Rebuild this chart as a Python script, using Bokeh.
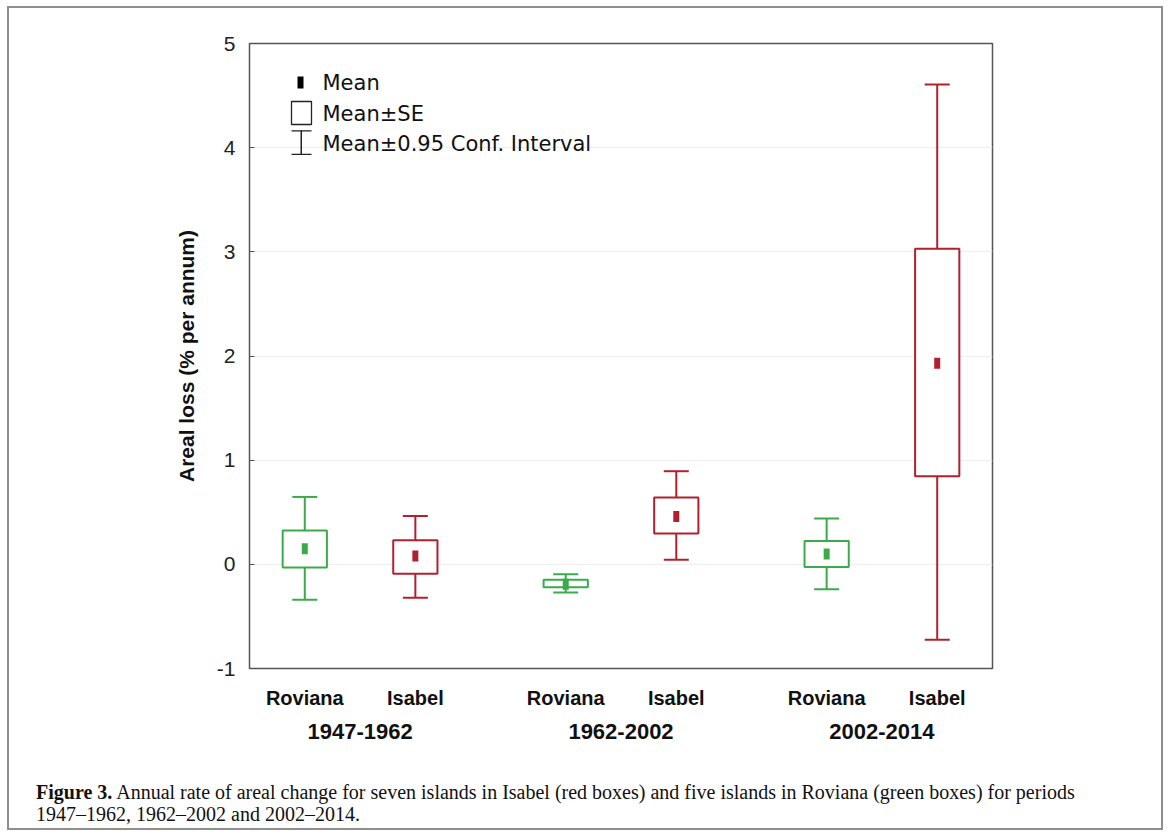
from bokeh.plotting import figure
from bokeh.models import (ColumnDataSource, FactorRange, Range1d, SingleIntervalTicker,
                          BoxAnnotation, Label, Div)
from bokeh.layouts import column
from bokeh.embed import file_html
from bokeh.resources import INLINE

# ---------------- data ----------------
periods = ["1947-1962", "1962-2002", "2002-2014"]
regions = ["Roviana", "Isabel"]
mean = [0.15, 0.08, -0.19, 0.46, 0.10, 1.93]
se_low = [-0.03, -0.09, -0.22, 0.295, -0.026, 0.846]
se_high = [0.325, 0.231, -0.147, 0.641, 0.224, 3.029]
ci_low = [-0.34, -0.32, -0.27, 0.045, -0.24, -0.724]
ci_high = [0.647, 0.465, -0.096, 0.894, 0.439, 4.606]
y_tick_labels = {-1: "-1", 0: "0", 1: "1", 2: "2", 3: "3", 4: "4", 5: "5"}
region_colors = {"Roviana": "#3aaa4b", "Isabel": "#b2202f"}

factors = [(p_, r) for p_ in periods for r in regions]
colors = [region_colors[r] for _, r in factors]

src = ColumnDataSource(dict(x=factors, mean=mean, se_low=se_low, se_high=se_high,
                            ci_low=ci_low, ci_high=ci_high, color=colors))

FONT = "Liberation Sans"

p = figure(width=1152, height=762, output_backend="svg", toolbar_location=None,
           x_range=FactorRange(*factors, group_padding=0.36, range_padding=0),
           y_range=Range1d(-1, 5),
           min_border_left=240, min_border_right=169, min_border_top=35, min_border_bottom=102)

p.outline_line_color = "#555555"
p.outline_line_width = 1.5
p.xgrid.grid_line_color = None
p.ygrid.grid_line_color = "#eeeeee"
p.ygrid.ticker = SingleIntervalTicker(interval=1)

# y axis
ya = p.yaxis[0]
ya.ticker = SingleIntervalTicker(interval=1)
ya.major_label_overrides = y_tick_labels
ya.minor_tick_line_color = None
ya.major_tick_in = 5
ya.major_tick_out = 0
ya.axis_line_color = "#555555"
ya.major_tick_line_color = "#555555"
ya.major_label_text_font = FONT
ya.major_label_text_font_size = "21px"
ya.major_label_text_color = "#222222"
ya.major_label_standoff = 10
ya.axis_label = "Areal loss (% per annum)"
ya.axis_label_text_font = FONT
ya.axis_label_text_font_style = "bold"
ya.axis_label_text_font_size = "21px"
ya.axis_label_text_color = "#111111"
ya.axis_label_standoff = 16

# x axis
xa = p.xaxis[0]
xa.major_tick_line_color = None
xa.axis_line_color = "#555555"
xa.separator_line_color = None
xa.major_label_text_font = FONT
xa.major_label_text_font_style = "bold"
xa.major_label_text_font_size = "20px"
xa.major_label_text_color = "#111111"
xa.group_text_font = FONT
xa.group_text_font_style = "bold"
xa.group_text_font_size = "22px"
xa.group_text_color = "#111111"
xa.major_label_standoff = 12

# whiskers
p.segment(x0="x", y0="se_high", x1="x", y1="ci_high", source=src, line_color="color", line_width=2)
p.segment(x0="x", y0="se_low", x1="x", y1="ci_low", source=src, line_color="color", line_width=2)
p.scatter(x="x", y="ci_high", source=src, marker="dash", size=25, line_color="color", line_width=2)
p.scatter(x="x", y="ci_low", source=src, marker="dash", size=25, line_color="color", line_width=2)
# boxes
p.vbar(x="x", width=0.4, top="se_high", bottom="se_low", source=src,
       fill_color="white", line_color="color", line_width=2)
# means
p.rect(x="x", y="mean", width=6, height=11, width_units="screen", height_units="screen",
       source=src, fill_color="color", line_color=None)

# legend (drawn manually, screen units relative to the plot frame)
LF = "DejaVu Sans"
p.add_layout(BoxAnnotation(left=48, right=54, bottom=580, top=592, left_units="screen",
                           right_units="screen", bottom_units="screen", top_units="screen",
                           fill_color="black", fill_alpha=1, line_color=None))
p.add_layout(BoxAnnotation(left=42, right=62, bottom=544, top=567, left_units="screen",
                           right_units="screen", bottom_units="screen", top_units="screen",
                           fill_color=None, fill_alpha=0, line_color="#222222", line_width=1.3, line_alpha=1))
for (l, r, b, t) in [(51, 52.5, 514, 538), (42, 62, 537, 538.3), (42, 62, 513.5, 514.8)]:
    p.add_layout(BoxAnnotation(left=l, right=r, bottom=b, top=t, left_units="screen",
                               right_units="screen", bottom_units="screen", top_units="screen",
                               fill_color="#222222", fill_alpha=1, line_color=None))
for txt, yy in [("Mean", 586), ("Mean±SE", 555), ("Mean±0.95 Conf. Interval", 525)]:
    p.add_layout(Label(x=73, y=yy, x_units="screen", y_units="screen", text=txt,
                       text_font=LF, text_font_size="21px", text_color="#111111",
                       text_baseline="middle", text_align="left"))

cap = Div(text="<div style=\"font-family:'Liberation Serif',serif; font-size:20px; line-height:22px; "
               "margin-left:22px; margin-top:6px; color:#111111;\">"
               "<b>Figure 3.</b> Annual rate of areal change for seven islands in Isabel (red boxes) "
               "and five islands in Roviana (green boxes) for periods<br>1947–1962, 1962–2002 and 2002–2014."
               "</div>",
          width=1152, height=58)

layout = column(p, cap, width=1156, height=824, sizing_mode="fixed",
                styles={"border": "2px solid #8e8e8e", "box-sizing": "border-box",
                        "margin-left": "7px", "margin-top": "6px"})

open("out.html", "w").write(file_html(layout, INLINE))
